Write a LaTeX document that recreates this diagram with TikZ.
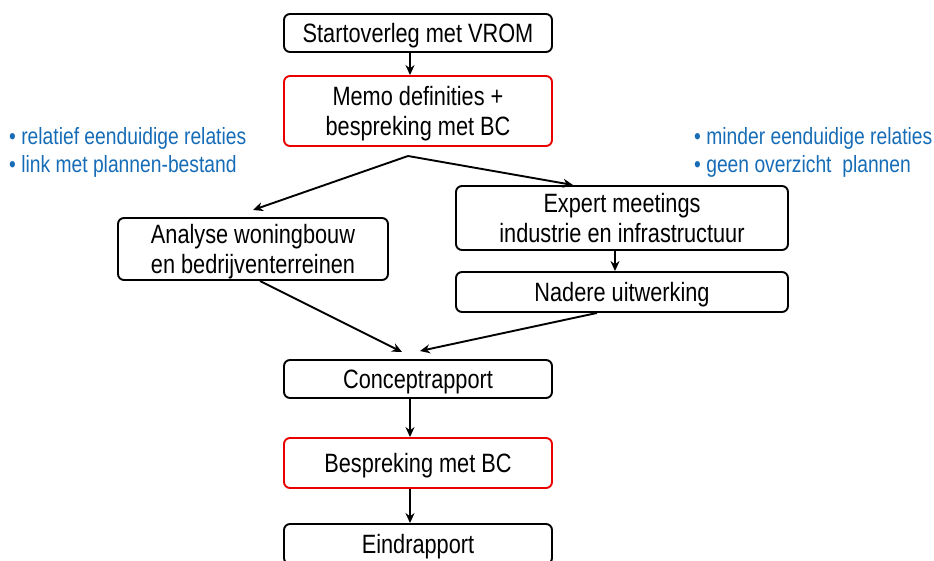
\documentclass[tikz,border=0pt]{standalone}
\usepackage{fontspec}
\setmainfont[FakeStretch=0.82]{Liberation Sans}
\usetikzlibrary{arrows.meta}
\definecolor{noteblue}{RGB}{22,108,182}
\definecolor{boxred}{RGB}{235,0,0}
\begin{document}
\begin{tikzpicture}[x=1pt,y=-1pt,
  stepbox/.style={draw=black,line width=1.9pt,rounded corners=6pt,inner sep=0pt,
    align=center,text depth=0pt,font=\fontsize{26.5}{30}\selectfont},
  redbox/.style={stepbox,draw=boxred},
  arr/.style={line width=1.9pt,-{Stealth[length=10pt,width=9pt]}},
  note/.style={anchor=west,inner sep=0pt,text=noteblue,font=\fontsize{23.5}{28}\selectfont,align=left}]
\useasboundingbox (0,0) rectangle (934,561);
% boxes
\node[stepbox,minimum width=268pt,minimum height=38pt] (start) at (418,33) {Startoverleg met VROM};
\node[redbox,minimum width=268pt,minimum height=70pt] (memo) at (418,111) {Memo definities +\\bespreking met BC};
\node[stepbox,minimum width=270pt,minimum height=62pt] (analyse) at (253,249) {Analyse woningbouw\\en bedrijventerreinen};
\node[stepbox,minimum width=332pt,minimum height=64pt] (expert) at (622,218) {Expert meetings\\industrie en infrastructuur};
\node[stepbox,minimum width=332pt,minimum height=40pt] (nadere) at (622,292) {Nadere uitwerking};
\node[stepbox,minimum width=268pt,minimum height=38pt] (concept) at (418,379) {Conceptrapport};
\node[redbox,minimum width=268pt,minimum height=50pt] (bespreking) at (418,463) {Bespreking met BC};
\node[stepbox,minimum width=268pt,minimum height=40pt] (eind) at (418,544) {Eindrapport};
% notes
\node[note] (noteL) at (9,152) {\textbullet\ relatief eenduidige relaties\\\textbullet\ link met plannen-bestand};
\node[note] (noteR) at (694,152) {\textbullet\ minder eenduidige relaties\\\textbullet\ geen overzicht\ \ plannen};
% connectors
\coordinate (split) at (408,156);
\coordinate (tipL) at (253,210);
\coordinate (tipR) at (573,185);
\coordinate (tipC1) at (402,352);
\coordinate (tipC2) at (420,351);
\draw[arr] ([xshift=-8pt]start.south) -- ([xshift=-8pt]memo.north);
\draw[arr] (split) -- (tipL);
\draw[arr] (split) -- (tipR);
\draw[arr] ([xshift=-7pt]expert.south) -- ([xshift=-7pt]nadere.north);
\draw[arr] ([xshift=7pt]analyse.south) -- (tipC1);
\draw[arr] ([xshift=-25pt]nadere.south) -- (tipC2);
\draw[arr] ([xshift=-8pt]concept.south) -- ([xshift=-8pt]bespreking.north);
\draw[arr] ([xshift=-8pt]bespreking.south) -- ([xshift=-8pt]eind.north);
\end{tikzpicture}
\end{document}
